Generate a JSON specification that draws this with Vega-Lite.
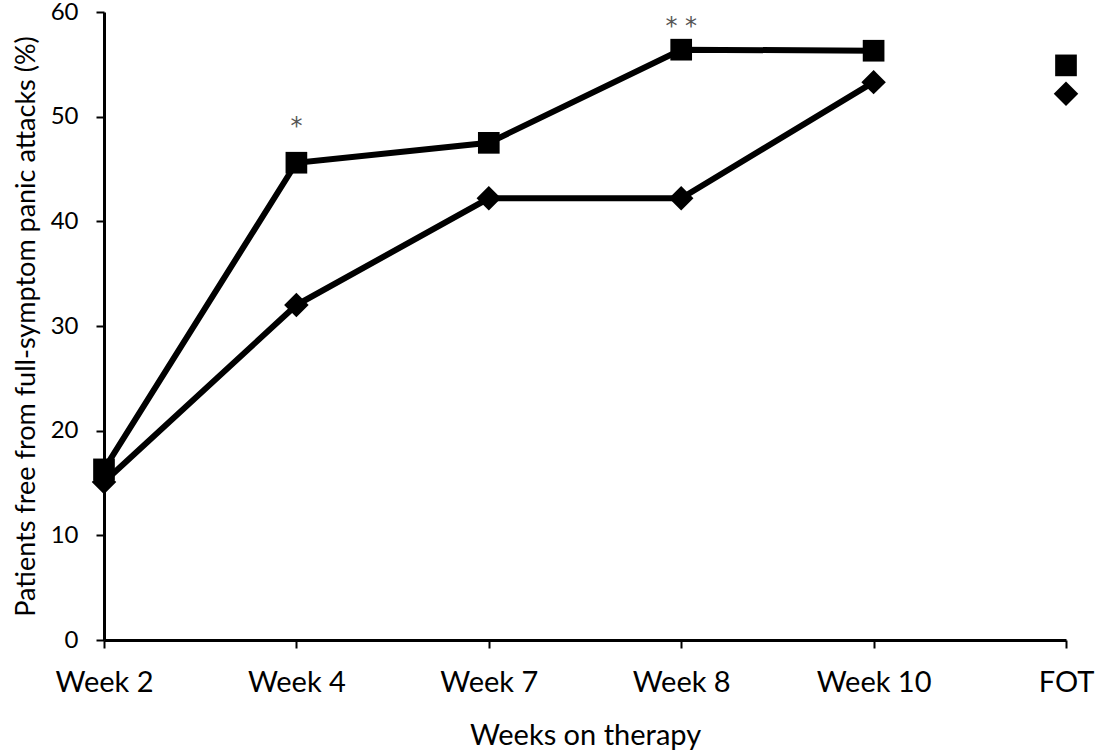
{
  "$schema": "https://vega.github.io/schema/vega-lite/v6.json",
  "width": 962,
  "height": 628,
  "autosize": {"type": "none"},
  "padding": {"left": 104, "top": 12, "right": 29, "bottom": 112},
  "background": "white",
  "config": {
    "view": {"stroke": null},
    "font": "Lato",
    "axis": {
      "grid": false,
      "domainColor": "black",
      "domainWidth": 3,
      "tickColor": "black",
      "tickWidth": 2,
      "tickSize": 8,
      "labelFont": "Lato",
      "labelColor": "black",
      "titleFont": "Lato",
      "titleFontWeight": "normal",
      "titleColor": "black"
    }
  },
  "datasets": {
    "series": [
      {"week": "Week 2", "group": "A", "value": 16.3},
      {"week": "Week 4", "group": "A", "value": 45.6},
      {"week": "Week 7", "group": "A", "value": 47.5},
      {"week": "Week 8", "group": "A", "value": 56.4},
      {"week": "Week 10", "group": "A", "value": 56.3},
      {"week": "FOT", "group": "A", "value": 54.9},
      {"week": "Week 2", "group": "B", "value": 15.1},
      {"week": "Week 4", "group": "B", "value": 32.0},
      {"week": "Week 7", "group": "B", "value": 42.2},
      {"week": "Week 8", "group": "B", "value": 42.2},
      {"week": "Week 10", "group": "B", "value": 53.3},
      {"week": "FOT", "group": "B", "value": 52.2}
    ],
    "marks": [
      {"week": "Week 4", "value": 49.0, "label": "*"},
      {"week": "Week 8", "value": 58.6, "label": "* *"}
    ]
  },
  "encoding": {
    "x": {
      "field": "week",
      "type": "ordinal",
      "scale": {"type": "point", "padding": 0, "domain": ["Week 2", "Week 4", "Week 7", "Week 8", "Week 10", "FOT"]},
      "axis": {"title": "Weeks on therapy", "labelAngle": 0, "labelFontSize": 29, "titleFontSize": 29, "labelPadding": 20, "titlePadding": 24, "domainWidth": 3}
    },
    "y": {
      "field": "value",
      "type": "quantitative",
      "scale": {"domain": [0, 60]},
      "axis": {"title": "Patients free from full-symptom panic attacks (%)", "values": [0, 10, 20, 30, 40, 50, 60], "labelFontSize": 24, "titleFontSize": 27, "labelPadding": 18, "titlePadding": 10}
    }
  },
  "layer": [
    {
      "data": {"name": "series"},
      "transform": [{"filter": "datum.week !== 'FOT'"}],
      "mark": {"type": "line", "color": "black", "strokeWidth": 6},
      "encoding": {
        "detail": {"field": "group"}
      }
    },
    {
      "data": {"name": "series"},
      "mark": {"type": "point", "filled": true, "color": "black", "opacity": 1},
      "encoding": {
        "shape": {"field": "group", "type": "nominal", "scale": {"domain": ["A", "B"], "range": ["square", "diamond"]}, "legend": null},
        "size": {"field": "group", "type": "nominal", "scale": {"domain": ["A", "B"], "range": [470, 600]}, "legend": null}
      }
    },
    {
      "data": {"name": "marks"},
      "mark": {"type": "text", "font": "DejaVu Sans", "fontSize": 24, "color": "#555555", "baseline": "middle", "align": "center", "clip": false},
      "encoding": {
        "text": {"field": "label"}
      }
    }
  ]
}
